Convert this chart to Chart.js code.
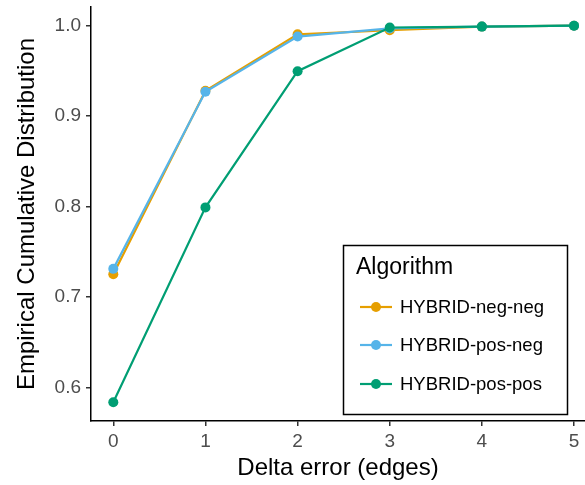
<!DOCTYPE html>
<html>
<head>
<meta charset="utf-8">
<script src="https://cdn.jsdelivr.net/npm/chart.js@4"></script>
<style>
  html, body { margin: 0; padding: 0; background: #fff; }
  #wrap { width: 585px; height: 485px; }
</style>
</head>
<body>
<div id="wrap"><canvas id="ecdf_chart" width="585" height="485"></canvas></div>
<script>
const deltaError = [0, 1, 2, 3, 4, 5];
const xTicks = [0, 1, 2, 3, 4, 5];
const yTicks = [0.6, 0.7, 0.8, 0.9, 1.0];

const seriesNames = ['HYBRID-neg-neg', 'HYBRID-pos-neg', 'HYBRID-pos-pos'];
const negNeg = [0.725, 0.928, 0.9905, 0.995, 0.999, 1.0];
const posNeg = [0.731, 0.927, 0.988, 0.997, 0.999, 1.0];
const posPos = [0.5835, 0.799, 0.9497, 0.998, 0.999, 1.0];
const colors = ['#E69F00', '#56B4E9', '#009E73'];

const FONT = "'Liberation Sans', Arial, sans-serif";

function makeSet(i, values) {
  return {
    label: seriesNames[i],
    data: deltaError.map((x, k) => ({ x: x, y: values[k] })),
    borderColor: colors[i],
    backgroundColor: colors[i],
    borderWidth: 2.2,
    pointRadius: 5,
    pointBorderWidth: 0,
    pointHoverRadius: 5,
    tension: 0,
    order: 3 - i
  };
}

// legend box drawn inside the plot, like ggplot's legend.position
const insideLegend = {
  id: 'insideLegend',
  afterDraw(chart) {
    const c = chart.ctx;
    c.save();
    c.strokeStyle = '#000';
    c.lineWidth = 1.5;
    c.strokeRect(343.5, 245.5, 224, 169);
    c.fillStyle = '#000';
    c.font = '23px ' + FONT;
    c.textBaseline = 'middle';
    c.textAlign = 'left';
    c.fillText('Algorithm', 356, 268);
    const rows = [307, 345, 384];
    chart.data.datasets.forEach((ds, i) => {
      const y = rows[i];
      c.strokeStyle = ds.borderColor;
      c.lineWidth = 2.2;
      c.beginPath();
      c.moveTo(360, y);
      c.lineTo(392, y);
      c.stroke();
      c.fillStyle = ds.borderColor;
      c.beginPath();
      c.arc(376, y, 5, 0, Math.PI * 2);
      c.fill();
      c.fillStyle = '#000';
      c.font = '18.5px ' + FONT;
      c.fillText(ds.label, 400, y + 1);
    });
    c.restore();
  }
};

const ctx = document.getElementById('ecdf_chart').getContext('2d');

const config = {
  type: 'line',
  data: {
    datasets: [makeSet(0, negNeg), makeSet(1, posNeg), makeSet(2, posPos)]
  },
  options: {
    responsive: false,
    animation: false,
    layout: { autoPadding: false, padding: { top: 7, right: 0, bottom: 0, left: 0 } },
    plugins: {
      legend: { display: false },
      tooltip: { enabled: false }
    },
    scales: {
      x: {
        type: 'linear',
        min: -0.242,
        max: 5.119,
        afterBuildTicks: s => { s.ticks = xTicks.map(v => ({ value: v })); },
        afterFit: s => { s.height = 64; s.paddingLeft = 0; s.paddingRight = 0; },
        grid: { drawOnChartArea: false, drawTicks: true, tickLength: 5, color: '#333', lineWidth: 1.5 },
        border: { display: true, color: '#000', width: 1.5 },
        ticks: { color: '#4D4D4D', font: { family: FONT, size: 19 }, padding: 4, maxRotation: 0 },
        title: { display: true, text: 'Delta error (edges)', color: '#000', font: { family: FONT, size: 24 }, padding: { top: 0, bottom: 2 } }
      },
      y: {
        min: 0.5627,
        max: 1.0207,
        afterBuildTicks: s => { s.ticks = yTicks.map(v => ({ value: v })); },
        afterFit: s => { s.width = 91; s.paddingTop = 0; s.paddingBottom = 0; },
        grid: { drawOnChartArea: false, drawTicks: true, tickLength: 5, color: '#333', lineWidth: 1.5 },
        border: { display: true, color: '#000', width: 1.5 },
        ticks: { color: '#4D4D4D', font: { family: FONT, size: 19 }, padding: 5, callback: v => v.toFixed(1) },
        title: { display: true, text: 'Empirical Cumulative Distribution', color: '#000', font: { family: FONT, size: 24 }, padding: { top: 13, bottom: 0 } }
      }
    }
  },
  plugins: [insideLegend]
};

const ecdf_chart = new Chart(ctx, config);
</script>
</body>
</html>
